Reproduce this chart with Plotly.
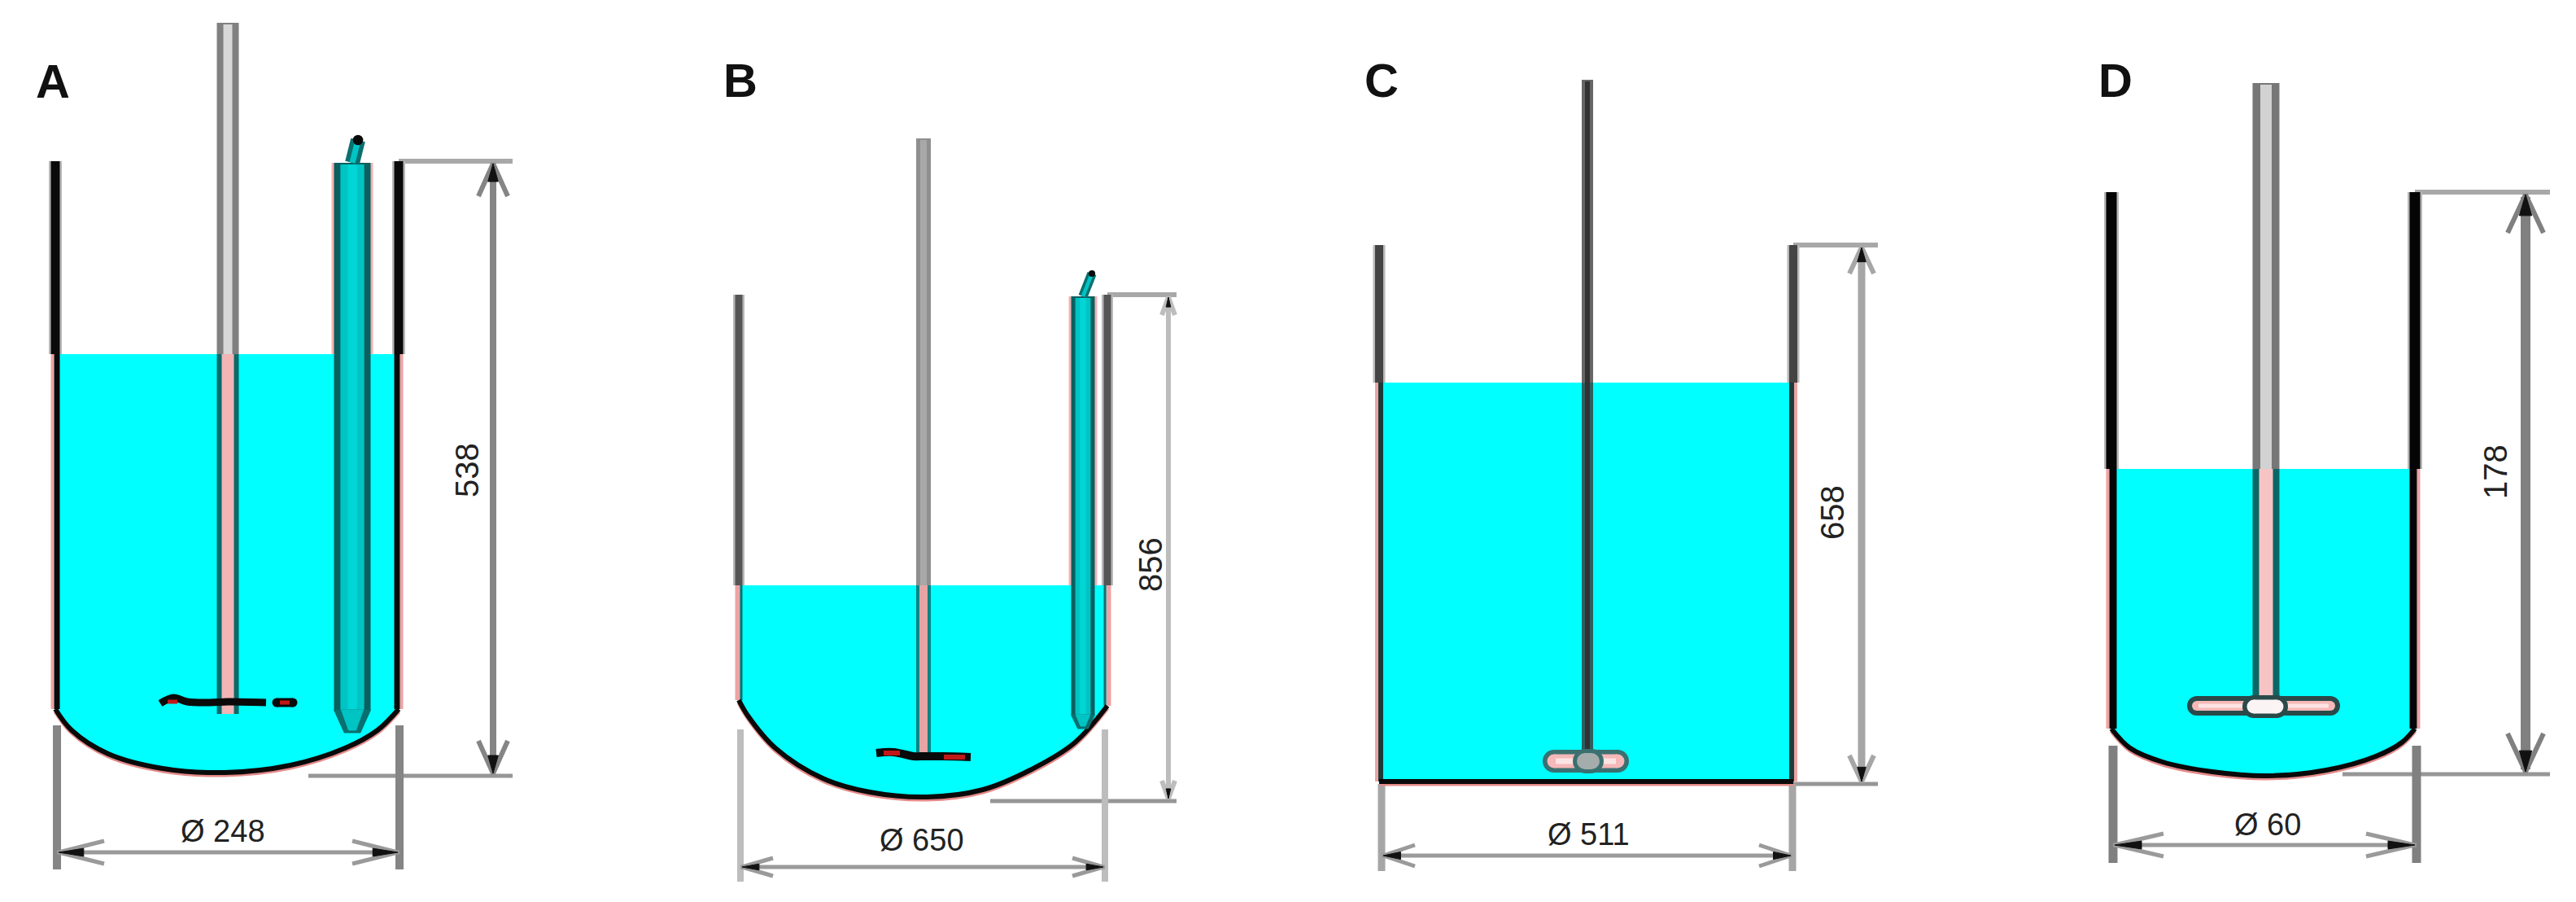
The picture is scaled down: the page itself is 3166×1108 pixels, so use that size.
import plotly.graph_objects as go

# everything is in picture pixels, y axis runs downwards
width = 3166
height = 1108
# readings came out a little low and right of the picture, axes take it back
shift_x = 2
shift_y = 4

labels = ["A", "B", "C", "D"]
label_x = [67, 912, 1700, 2602]
label_y = [103, 102, 102, 102]

wall_left = [70, 910, 1697, 2597]
wall_right = [492, 1363, 2206, 2970]
wall_top = [202, 366, 305, 240]
liquid_top = [439, 723, 474, 580]
wall_width = [11, 9, 10, 13]
wall_color = ["#0a0a0a", "#555555", "#444444", "#050505"]
wet_wall_color = ["#0a0a0a", "#0e6e6e", "#1a3c3c", "#050505"]
wet_pink_width = [4, 6, 4, 4]
wet_core_width = [7, 3, 6, 9]

bottom_a_x = [70, 90, 135, 202, 278, 359, 426, 466, 492]
bottom_a_y = [875, 901, 930, 948, 953, 944, 923, 901, 875]
bottom_b_x = [910, 921, 955, 1013, 1071, 1141, 1210, 1268, 1322, 1363]
bottom_b_y = [864, 883, 923, 960, 977, 983, 974, 950, 917, 871]
bottom_c_x = [1697, 2206]
bottom_c_y = [964, 964]
bottom_d_x = [2597, 2620, 2660, 2721, 2789, 2861, 2922, 2954, 2970]
bottom_d_y = [899, 923, 940, 952, 957, 950, 933, 916, 899]
bottoms_x = [bottom_a_x, bottom_b_x, bottom_c_x, bottom_d_x]
bottoms_y = [bottom_a_y, bottom_b_y, bottom_c_y, bottom_d_y]

shaft_x = [282, 1137, 1953, 2787]
shaft_top = [32, 174, 102, 106]
shaft_bottom = [881, 933, 933, 866]
shaft_width = [27, 18, 14, 33]
shaft_core_width = [11, 8, 6, 14]
shaft_wet_core_width = [15, 10, 6, 17]
shaft_edge = ["#808080", "#8f8f8f", "#666666", "#777777"]
shaft_core = ["#d8d8d8", "#a8a8a8", "#333333", "#d2d2d2"]
shaft_wet_edge = ["#0a6a6a", "#0c8282", "#2c6060", "#0c6666"]
shaft_wet_core = ["#f2b4b4", "#e6a4a4", "#333333", "#f6c4c4"]

# only A and B have the probe
probe_x = [435, 1333]
probe_top = [204, 368]
probe_shoulder = [876, 882]
probe_tip = [904, 899]
probe_head_x = [442, 1344]
probe_head_y = [176, 340]
probe_width = [45, 29]
probe_liquid = [439, 723]

# wavy paddles seen edge on (A, B)
paddle_a_x = [199, 215, 232, 260, 282, 329]
paddle_a_y = [868, 861, 866, 867, 866, 867]
paddle_b_x = [1079, 1100, 1125, 1138, 1160, 1195]
paddle_b_y = [929, 928, 933, 933, 933, 934]
paddle_red_x0 = [208, 346, 1088, 1162]
paddle_red_x1 = [220, 358, 1108, 1188]
paddle_red_y = [866, 867, 929, 934]
paddle_red_w = [5, 5, 6, 6]
loose_bit_x0 = 342
loose_bit_x1 = 362
loose_bit_y = 867

# flat T paddles (C, D)
blade_x0 = [1912, 2702]
blade_x1 = [1990, 2866]
blade_y = [939, 871]
blade_width = [28, 24]
blade_core_width = [17, 12]
blade_edge = ["#3a7070", "#2a4a4a"]
hub_x0 = [1950, 2772]
hub_x1 = [1958, 2800]
hub_y = [939, 872]
hub_width = [30, 28]
hub_core_width = [20, 17]
hub_core = ["#a4acac", "#fbf4f4"]

dim_x = [608, 1438, 2290, 3106]
dim_line_end = [632, 1448, 2310, 3136]
dim_low_y = [957, 988, 967, 955]
dim_low_start = [381, 1219, 2206, 2881]
dim_width = [8, 6, 9, 12]
dim_color = ["#858585", "#bdbdbd", "#a6a6a6", "#808080"]
v_arrow_len = [40, 22, 32, 47]
v_arrow_half = [18, 8, 15, 22]

hdim_y = [1051, 1069, 1055, 1042]
hdim_x0 = [72, 912, 1700, 2599]
hdim_x1 = [493, 1360, 2205, 2972]
ext_top = [895, 900, 967, 920]
ext_bottom = [1072, 1087, 1074, 1064]
ext_width = [10, 8, 9, 11]
h_arrow_len = [56, 38, 39, 60]
h_arrow_half = [14, 11, 13, 14]

height_text = ["538", "856", "658", "178"]
height_text_x = [576, 1416, 2254, 3069]
height_text_y = [582, 698, 634, 584]
dia_text = ["Ø 248", "Ø 650", "Ø 511", "Ø 60"]
dia_text_x = [276, 1135, 1954, 2789]
dia_text_y = [1025, 1036, 1029, 1017]

fig = go.Figure()


def line(xs, ys, color, w, shape="linear"):
    fig.add_trace(go.Scatter(x=xs, y=ys, mode="lines",
                             line=dict(color=color, width=w, shape=shape),
                             hoverinfo="skip", showlegend=False))


def bar(x0, x1, y, color, w):
    # line with round ends
    fig.add_trace(go.Scatter(x=[x0, x1], y=[y, y], mode="lines+markers",
                             line=dict(color=color, width=w),
                             marker=dict(color=color, size=w),
                             hoverinfo="skip", showlegend=False))


def blob(xs, ys, color):
    fig.add_trace(go.Scatter(x=xs, y=ys, mode="lines", fill="toself", fillcolor=color,
                             line=dict(color=color, width=1),
                             hoverinfo="skip", showlegend=False))


def arrow(tx, ty, dx, dy, length, half, color, w):
    # open gray head with a black point
    ex, ey = tx + dx * length, ty + dy * length
    px, py = -dy * half, dx * half
    line([ex + px, tx, ex - px], [ey + py, ty, ey - py], color, w)
    mx, my = tx + dx * length * 0.55, ty + dy * length * 0.55
    blob([tx, mx + px * 0.35, mx - px * 0.35, tx], [ty, my + py * 0.35, my - py * 0.35, ty], "#111111")


for i in range(4):
    l, r = wall_left[i], wall_right[i]
    top, liq = wall_top[i], liquid_top[i]
    bx, by = bottoms_x[i], bottoms_y[i]
    ww = wall_width[i]

    # dimension lines go under the vessel
    line([r, dim_line_end[i]], [top, top], "#a8a8a8", 6)
    line([dim_low_start[i], dim_line_end[i]], [dim_low_y[i], dim_low_y[i]], "#969696", 5)
    line([dim_x[i], dim_x[i]], [top + 6, dim_low_y[i] - 6], dim_color[i], dim_width[i])
    arrow(dim_x[i], top + 3, 0, 1, v_arrow_len[i], v_arrow_half[i], dim_color[i], 6)
    arrow(dim_x[i], dim_low_y[i] - 3, 0, -1, v_arrow_len[i], v_arrow_half[i], dim_color[i], 6)
    line([hdim_x0[i], hdim_x0[i]], [ext_top[i], ext_bottom[i]], dim_color[i], ext_width[i])
    line([hdim_x1[i], hdim_x1[i]], [ext_top[i], ext_bottom[i]], dim_color[i], ext_width[i])
    line([hdim_x0[i], hdim_x1[i]], [hdim_y[i], hdim_y[i]], "#9a9a9a", 5)
    arrow(hdim_x0[i] + 2, hdim_y[i], 1, 0, h_arrow_len[i], h_arrow_half[i], "#9a9a9a", 5)
    arrow(hdim_x1[i] - 2, hdim_y[i], -1, 0, h_arrow_len[i], h_arrow_half[i], "#9a9a9a", 5)

    # liquid
    fig.add_trace(go.Scatter(x=[l, r] + bx[::-1] + [l], y=[liq, liq] + by[::-1] + [liq],
                             mode="lines", fill="toself", fillcolor="#00ffff",
                             line=dict(color="#00ffff", width=0),
                             hoverinfo="skip", showlegend=False))

    # walls: gray halo in the air, pink on the outside in the liquid
    line([l, l], [top, liq], "#b8b8b8", ww + 5)
    line([r, r], [top, liq], "#b8b8b8", ww + 5)
    line([l, l], [top, liq], wall_color[i], ww)
    line([r, r], [top, liq], wall_color[i], ww)
    pw, cw = wet_pink_width[i], wet_core_width[i]
    outer = ww / 2
    line([l - outer + pw / 2] * 2, [liq, by[0]], "#eda3a3", pw)
    line([r + outer - pw / 2] * 2, [liq, by[-1]], "#eda3a3", pw)
    line([l - outer + pw + cw / 2] * 2, [liq, by[0]], wet_wall_color[i], cw)
    line([r + outer - pw - cw / 2] * 2, [liq, by[-1]], wet_wall_color[i], cw)
    line(bx, [y + 3 for y in by], "#e58a8a", 5, "spline")
    line(bx, by, "#0a0a0a", 6, "spline")

    # shaft
    sx = shaft_x[i]
    line([sx, sx], [shaft_top[i], liq], shaft_edge[i], shaft_width[i])
    line([sx, sx], [shaft_top[i] + 2, liq], shaft_core[i], shaft_core_width[i])
    line([sx, sx], [liq, shaft_bottom[i]], shaft_wet_edge[i], shaft_width[i])
    line([sx, sx], [liq, shaft_bottom[i]], shaft_wet_core[i], shaft_wet_core_width[i])

    fig.add_annotation(x=label_x[i], y=label_y[i], text="<b>" + labels[i] + "</b>", showarrow=False,
                       font=dict(family="Liberation Sans", size=58, color="#111111"))
    fig.add_annotation(x=height_text_x[i], y=height_text_y[i], text=height_text[i], showarrow=False,
                       textangle=-90, font=dict(family="Liberation Sans", size=40, color="#222222"))
    fig.add_annotation(x=dia_text_x[i], y=dia_text_y[i], text=dia_text[i], showarrow=False,
                       font=dict(family="Liberation Sans", size=38, color="#222222"))

for i in range(2):
    cx, w = probe_x[i], probe_width[i]
    top = probe_top[i]
    line([cx, cx], [top, probe_liquid[i]], "#f0b4b4", w + 6)
    line([cx, cx], [top, probe_shoulder[i]], "#0a5f5f", w)
    line([cx, cx], [top + 2, probe_shoulder[i]], "#00c4c4", w * 0.65)
    line([cx, cx], [top + 2, probe_shoulder[i]], "#00d6d6", w * 0.25)
    blob([cx - w / 2, cx + w / 2, cx + w * 0.22, cx - w * 0.22, cx - w / 2],
         [probe_shoulder[i], probe_shoulder[i], probe_tip[i], probe_tip[i], probe_shoulder[i]], "#0a6f6f")
    blob([cx - w * 0.3, cx + w * 0.3, cx + w * 0.1, cx - w * 0.1, cx - w * 0.3],
         [probe_shoulder[i], probe_shoulder[i], probe_tip[i] - 3, probe_tip[i] - 3, probe_shoulder[i]], "#00c4c4")
    # bent head on top of the probe
    hx, hy = probe_head_x[i], probe_head_y[i]
    line([cx, hx], [top, hy], "#0a6f6f", w * 0.4)
    line([cx, hx], [top, hy], "#00c4c4", w * 0.16)
    fig.add_trace(go.Scatter(x=[hx], y=[hy], mode="markers",
                             marker=dict(size=w * 0.28, color="#0a0a0a"),
                             hoverinfo="skip", showlegend=False))

line(paddle_a_x, paddle_a_y, "#0a0a0a", 9, "spline")
line(paddle_b_x, paddle_b_y, "#0a0a0a", 10, "spline")
bar(loose_bit_x0, loose_bit_x1, loose_bit_y, "#0a0a0a", 11)
for i in range(4):
    line([paddle_red_x0[i], paddle_red_x1[i]], [paddle_red_y[i]] * 2, "#c01818", paddle_red_w[i])

for i in range(2):
    bar(blade_x0[i], blade_x1[i], blade_y[i], blade_edge[i], blade_width[i])
    bar(blade_x0[i], blade_x1[i], blade_y[i], "#f6b8b8", blade_core_width[i])
    line([blade_x0[i] + 2, blade_x1[i] - 2], [blade_y[i], blade_y[i]], "#fde4e4", blade_core_width[i] * 0.4)
    bar(hub_x0[i], hub_x1[i], hub_y[i], blade_edge[i], hub_width[i])
    bar(hub_x0[i], hub_x1[i], hub_y[i], hub_core[i], hub_core_width[i])

fig.update_layout(width=width, height=height, margin=dict(l=0, r=0, t=0, b=0),
                  paper_bgcolor="white", plot_bgcolor="white", showlegend=False,
                  xaxis=dict(range=[shift_x, width + shift_x], visible=False, fixedrange=True),
                  yaxis=dict(range=[height + shift_y, shift_y], visible=False, fixedrange=True))

fig.write_html("out.html", config={"displayModeBar": False},
               post_script="document.body.style.margin='0';")
